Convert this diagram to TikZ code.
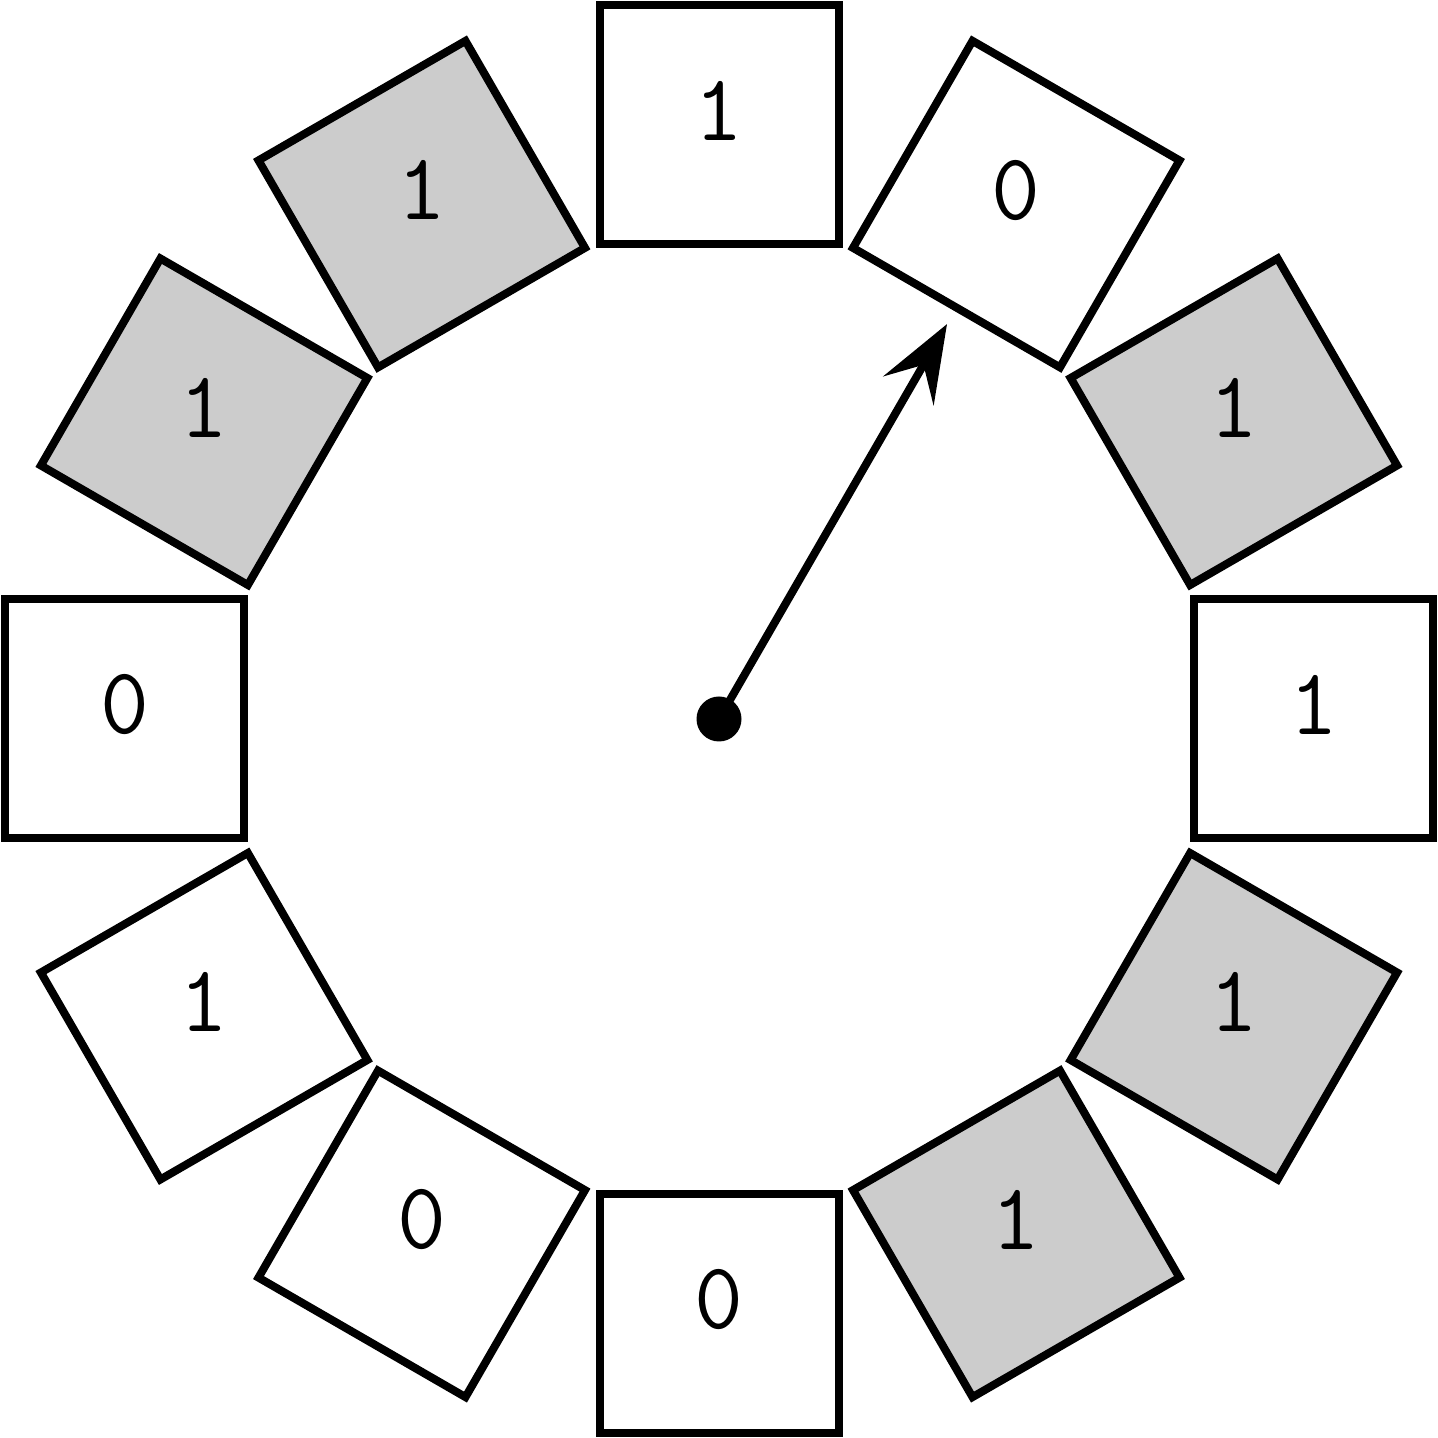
\documentclass[tikz,border=0pt]{standalone}
\usetikzlibrary{arrows.meta}
\definecolor{cellgray}{HTML}{CCCCCC}
\tikzset{
  cell/.style={draw=black, line width=0.8mm, minimum size=2.39cm, inner sep=0pt, outer sep=0pt},
  bit/.style={font=\fontsize{27}{30}\selectfont\ttfamily, inner sep=0pt},
  pointer/.style={line width=0.8mm, -{Stealth[length=7.7mm, width=5.8mm, inset=3mm]}},
}
\begin{document}
\begin{tikzpicture}
\useasboundingbox (-7.19,-7.19) rectangle (7.19,7.19);
\foreach \ang/\val/\fc [count=\i] in {90/1/white, 60/0/white, 30/1/cellgray, 0/1/white, -30/1/cellgray, -60/1/cellgray, -90/0/white, -120/0/white, -150/1/white, 180/0/white, 150/1/cellgray, 120/1/cellgray}{
  \node[cell, fill=\fc, rotate=\ang-90] (c\i) at (\ang:5.945) {};
  \node[bit] (t\i) at ([yshift=1.4mm]c\i.center) {\val};
}
\fill[black] (0,0) circle (2.25mm);
\coordinate (o) at (0,0);
\coordinate (tip) at (60:4.56);
\draw[pointer] (o) -- (tip);
\end{tikzpicture}
\end{document}
